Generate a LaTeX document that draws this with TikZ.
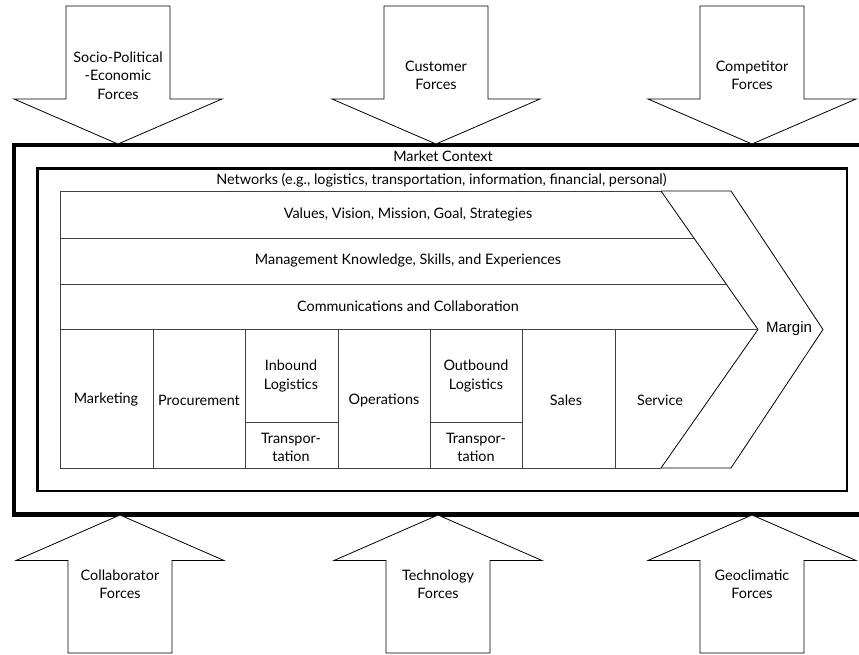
\documentclass[tikz,border=0pt]{standalone}
\usepackage{fontspec}
\setmainfont{Lato}
\newfontfamily\arialfont{Liberation Sans}
\begin{document}
\begin{tikzpicture}[x=1pt,y=-1pt,
  txt/.style={font=\fontsize{14.4}{18.5}\selectfont, align=center, inner sep=0pt},
  grid/.style={draw=black!75, line width=0.9pt},
  chev/.style={draw=black, line width=0.8pt},
  frc/.style={draw=black, line width=0.8pt, fill=white},
  outerbox/.style={draw=black, line width=4.5pt},
  innerbox/.style={draw=black, line width=2.4pt}]
\useasboundingbox (0,0) rectangle (859,654);
\clip (0,0) rectangle (859,654);
% outer and inner boxes
\draw[outerbox] (875,145) -- (14,145) -- (14,514.5) -- (875,514.5);
\draw[innerbox] (37.5,168.5) rectangle (847,491);
% top force arrows
\foreach \c/\n in {118/a, 436/b, 752/c}{
  \draw[frc] (\c-52,6) -- (\c+52,6) -- (\c+52,99) -- (\c+104,99) -- (\c,144) -- (\c-104,99) -- (\c-52,99) -- cycle;
}
% bottom force arrows
\foreach \c/\n in {120/d, 438/e, 752/f}{
  \draw[frc] (\c-52,653) -- (\c+52,653) -- (\c+52,560.5) -- (\c+104,560.5) -- (\c,515) -- (\c-104,560.5) -- (\c-52,560.5) -- cycle;
}
\node[txt] (socio) at (118,75.5) {Socio-Political\\-Economic\\Forces};
\node[txt] (cust) at (436,75.5) {Customer\\Forces};
\node[txt] (comp) at (752,75.5) {Competitor\\Forces};
\node[txt] (coll) at (120,584) {Collaborator\\Forces};
\node[txt] (tech) at (438,584) {Technology\\Forces};
\node[txt] (geo) at (752,584) {Geoclimatic\\Forces};
% labels of boxes
\node[txt] (market) at (443,156.5) {Market Context};
\node[txt] (networks) at (441.5,180.5) {Networks (e.g., logistics, transportation, information, financial, personal)};
% value chain
\draw[chev] (661,191) -- (731,191) -- (823,329.5) -- (731,468) -- (661,468);
\draw[chev] (661,191) -- (758,329.5) -- (661,468);
\draw[grid] (661,191) -- (60,191) -- (60,468) -- (661,468);
\draw[grid] (60,238) -- (694,238);
\draw[grid] (60,284) -- (726,284);
\draw[grid] (60,329.5) -- (758,329.5);
\foreach \x in {153,245,338,430,522,615}{
  \draw[grid] (\x,329.5) -- (\x,468);
}
\draw[grid] (245,422) -- (338,422);
\draw[grid] (430,422) -- (522,422);
\node[txt] (values) at (408,214.5) {Values, Vision, Mission, Goal, Strategies};
\node[txt] (mgmt) at (408,260.5) {Management Knowledge, Skills, and Experiences};
\node[txt] (comm) at (408,306.5) {Communications and Collaboration};
\node[txt] (mkt) at (106,400) {Marketing};
\node[txt] (proc) at (199,400) {Procurement};
\node[txt] (inb) at (291,376) {Inbound\\Logistics};
\node[txt] (tr1) at (291,447.5) {Transpor-\\tation};
\node[txt] (ops) at (384,400) {Operations};
\node[txt] (outb) at (476,376) {Outbound\\Logistics};
\node[txt] (tr2) at (476,447.5) {Transpor-\\tation};
\node[txt] (sales) at (566,400) {Sales};
\node[txt] (serv) at (660,400) {Service};
\node[txt, font=\arialfont\fontsize{15}{18}\selectfont] (margin) at (789,329) {Margin};
\end{tikzpicture}
\end{document}
